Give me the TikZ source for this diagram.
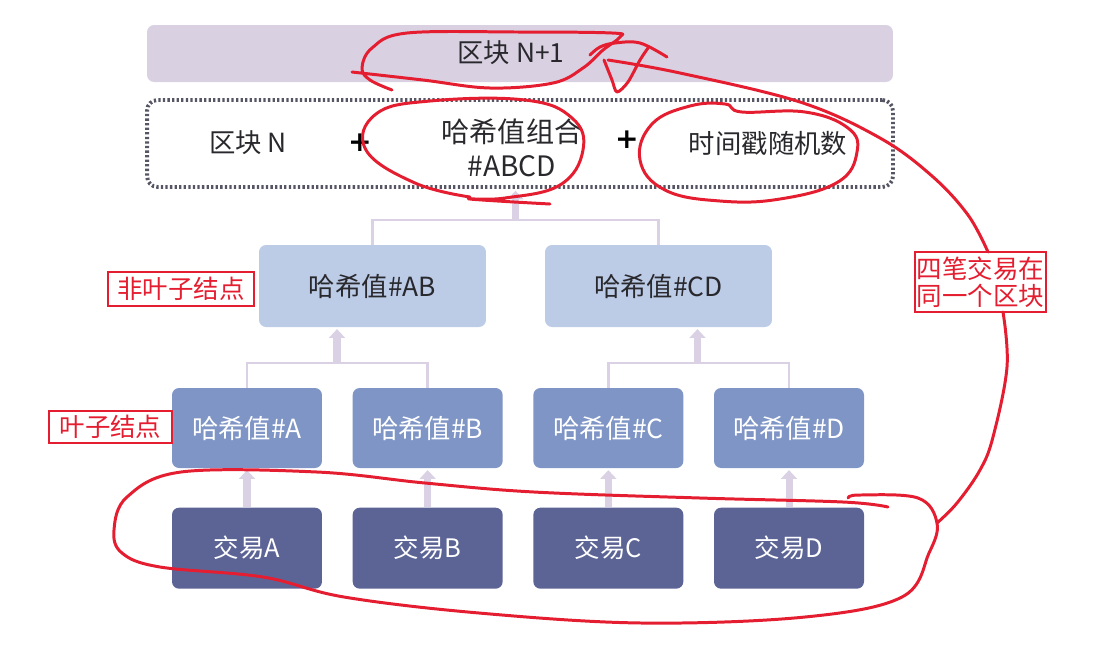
\documentclass[tikz,border=0pt]{standalone}
\usepackage{fontspec}
\setmainfont{Noto Sans CJK SC}
\newfontfamily\plusfont{DejaVu Sans}
\usetikzlibrary{positioning,arrows.meta,calc}
\definecolor{blockbar}{RGB}{217,208,226}
\definecolor{dotgray}{RGB}{85,85,100}
\definecolor{hashpale}{RGB}{188,203,230}
\definecolor{hashmid}{RGB}{126,149,197}
\definecolor{txnavy}{RGB}{92,100,150}
\definecolor{linklav}{RGB}{218,210,228}
\definecolor{inkdark}{RGB}{40,40,45}
\definecolor{pen}{RGB}{228,30,48}
\newcommand{\txtsize}{\fontsize{15}{18}\selectfont}
\newcommand{\lblsize}{\fontsize{14.5}{15.5}\selectfont}

\begin{document}
\begin{tikzpicture}[x=0.02cm,y=-0.02cm,
    card/.style={rounded corners=4pt, inner sep=0pt, font=\txtsize},
    leaf/.style={card, fill=hashmid, text=white, minimum width=3cm, minimum height=1.6cm},
    txcard/.style={card, fill=txnavy, text=white, minimum width=3cm, minimum height=1.62cm, font=\fontsize{14.5}{17}\selectfont},
    inner/.style={card, fill=hashpale, text=inkdark, minimum width=4.54cm, minimum height=1.64cm},
    link/.style={draw=linklav, line width=1.6pt},
    uparr/.style={draw=linklav, line width=4pt, shorten >=1pt, -{Triangle[width=9pt,length=5pt]}},
    lbl/.style={draw=pen, line width=1.2pt, text=pen, font=\lblsize, inner sep=1pt, align=left},
    redpen/.style={draw=pen, line width=1.7pt, line cap=round, line join=round}]
  \useasboundingbox (0,0) rectangle (1101,654);
  % block N+1 and the header of block N
  \node[card, fill=blockbar, minimum width=14.92cm, minimum height=1.14cm] (next) at (520,53.5) {};
  \node[font=\txtsize, text=inkdark] (nexttxt) at (511,53) {区块 N+1};
  \node[rounded corners=6pt, draw=dotgray, line width=2.2pt, dash pattern=on 1.3pt off 1.3pt,
        minimum width=14.92cm, minimum height=1.74cm] (head) at (520,143.5) {};
  \node[font=\txtsize, text=inkdark] (prev) at (248,143) {区块 N};
  \node[font=\plusfont\bfseries\fontsize{16}{16}\selectfont] (plusA) at (360,143) {+};
  \node[font=\fontsize{16}{19}\selectfont, text=inkdark, align=center] (combo) at (512,148) {哈希值组合\\\#ABCD};
  \node[font=\plusfont\bfseries\fontsize{16}{16}\selectfont] (plusB) at (627,140) {+};
  \node[font=\txtsize, text=inkdark] (stamp) at (768,143) {时间戳随机数};
  % non-leaf nodes
  \node[inner] (hAB) at (372.5,286) {哈希值\#AB};
  \node[inner] (hCD) at (658.5,286) {哈希值\#CD};
  % leaf nodes and transactions
  \node[leaf] (hA) at (247,428) {哈希值\#A};
  \node[leaf, right=0.6cm of hA] (hB) {哈希值\#B};
  \node[leaf, right=0.6cm of hB] (hC) {哈希值\#C};
  \node[leaf, right=0.6cm of hC] (hD) {哈希值\#D};
  \foreach \t in {A,B,C,D}{
    \node[txcard, below=0.78cm of h\t] (tx\t) {交易\t};
    \draw[uparr] (tx\t.north) -- (h\t.south);
  }
  % brackets
  \coordinate (abmid) at (337,363);
  \coordinate (cdmid) at (697.5,363);
  \coordinate (topmid) at (515.5,220);
  \draw[link] (hA.north) |- (abmid) -| (hB.north);
  \draw[link] (hC.north) |- (cdmid) -| (hD.north);
  \draw[link] (hAB.north) |- (topmid) -| (hCD.north);
  \draw[uparr] (abmid) -- (abmid |- hAB.south);
  \draw[uparr] (cdmid) -- (cdmid |- hCD.south);
  \draw[uparr] (topmid) -- (topmid |- head.south);
  % red notes
  \node[lbl, minimum width=2.92cm, minimum height=0.68cm] (nonleaf) at (181,289) {非叶子结点};
  \node[lbl, minimum width=2.46cm, minimum height=0.64cm] (leafnote) at (110.5,427) {叶子结点};
  \node[lbl, minimum width=2.46cm, minimum height=1.2cm] (same) at (980.5,282) {四笔交易在\\同一个区块};
  % free-hand marks
  \draw[redpen] plot[smooth, tension=0.6] coordinates {(352,72) (423,80) (490,88) (553,83) (583,68) (603,50) (620,37) (612,33) (520,32) (407,33) (372,48) (362,68) (370,80) (392,90)};
  \draw[redpen] plot[smooth, tension=0.6] coordinates {(590,55) (600,47) (615,43) (640,43) (667,57)};
  \draw[redpen] plot[smooth, tension=0.5] coordinates {(604,60) (612,80) (617,92) (628,82) (640,60) (648,48)};
  \draw[redpen] plot[smooth, tension=0.7] coordinates {(470,197) (415,183) (366,150) (376,114) (430,101) (525,100) (572,118) (583,150) (560,185) (505,198) (470,199) (550,204)};
  \draw[redpen] plot[smooth cycle, tension=0.7] coordinates {(725,104) (742,112) (805,112) (848,128) (857,152) (838,182) (780,199) (720,201) (665,190) (640,160) (652,124) (690,106)};
  \draw[redpen] plot[smooth, tension=0.6] coordinates {(888,507) (843,502) (700,498) (534,492) (425,483) (317,472) (181,472) (127,497) (114,530) (122,553) (160,567) (263,577) (344,597) (479,613) (642,623) (805,617) (902,597) (929,553) (937,523) (918,498) (859,495) (848,498)};
  \draw[redpen] plot[smooth, tension=0.6] coordinates {(937,523) (957,503) (980,470) (993,437) (1007,367) (1003,312)};
  \draw[redpen] plot[smooth, tension=0.6] coordinates {(988,252) (968,215) (932,176) (880,138) (800,102) (680,73) (608,60)};
\end{tikzpicture}
\end{document}
